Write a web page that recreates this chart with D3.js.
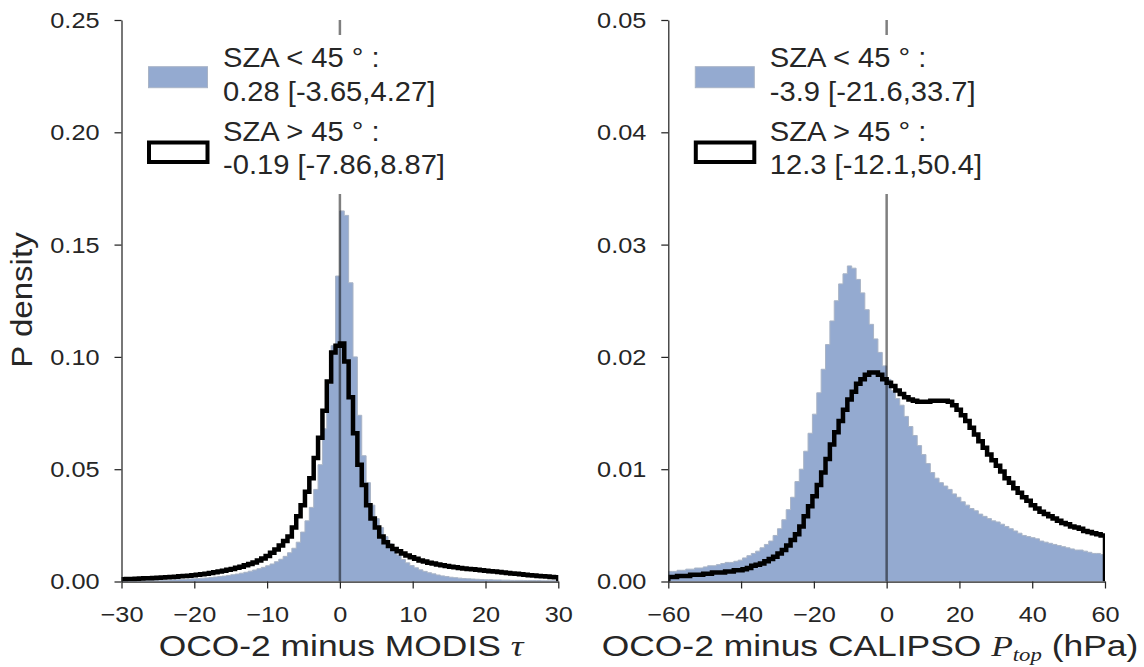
<!DOCTYPE html>
<html>
<head>
<meta charset="utf-8">
<script src="https://cdn.jsdelivr.net/npm/d3@7"></script>
<style>
  body { margin: 0; background: #fff; }
  svg { display: block; }
</style>
</head>
<body>
<svg id="chart" width="1144" height="667"></svg>
<script>
// bin ranges (100 equal bins each)
var tauRange = [-30, 30];
var ptopRange = [-60, 60];

var tauTicks = [-30, -20, -10, 0, 10, 20, 30];
var ptopTicks = [-60, -40, -20, 0, 20, 40, 60];
var tauDensityTicks = [0, 0.05, 0.10, 0.15, 0.20, 0.25];
var ptopDensityTicks = [0, 0.01, 0.02, 0.03, 0.04, 0.05];

// OCO-2 minus MODIS tau, SZA < 45 (filled)
var tauLow = [
  0.0002, 0.0002, 0.0003, 0.0003, 0.0003, 0.0004, 0.0004, 0.0005, 0.0005, 0.0006,
  0.0006, 0.0007, 0.0008, 0.0009, 0.0010, 0.0011, 0.0012, 0.0013, 0.0015, 0.0016,
  0.0018, 0.0020, 0.0022, 0.0024, 0.0027, 0.0030, 0.0033, 0.0037, 0.0041, 0.0046,
  0.0051, 0.0057, 0.0063, 0.0070, 0.0078, 0.0088, 0.0099, 0.0112, 0.0128, 0.0148,
  0.0175, 0.0220, 0.0270, 0.0330, 0.0410, 0.0520, 0.0680, 0.0880, 0.1050, 0.1360,
  0.1650, 0.1630, 0.1330, 0.1000, 0.0740, 0.0560, 0.0440, 0.0340, 0.0280, 0.0240,
  0.0200, 0.0168, 0.0142, 0.0118, 0.0098, 0.0083, 0.0071, 0.0061, 0.0052, 0.0045,
  0.0039, 0.0034, 0.0029, 0.0025, 0.0022, 0.0019, 0.0017, 0.0015, 0.0013, 0.0012,
  0.0011, 0.0010, 0.0009, 0.0008, 0.0008, 0.0007, 0.0007, 0.0006, 0.0006, 0.0005,
  0.0005, 0.0005, 0.0004, 0.0004, 0.0004, 0.0004, 0.0003, 0.0003, 0.0003, 0.0003
];
// SZA > 45 (step line)
var tauHigh = [
  0.0010, 0.0011, 0.0011, 0.0012, 0.0013, 0.0014, 0.0015, 0.0016, 0.0017, 0.0018,
  0.0019, 0.0020, 0.0021, 0.0023, 0.0024, 0.0026, 0.0028, 0.0030, 0.0032, 0.0035,
  0.0038, 0.0041, 0.0044, 0.0048, 0.0052, 0.0056, 0.0061, 0.0066, 0.0072, 0.0078,
  0.0085, 0.0093, 0.0102, 0.0113, 0.0128, 0.0143, 0.0160, 0.0180, 0.0200, 0.0240,
  0.0290, 0.0340, 0.0400, 0.0460, 0.0550, 0.0640, 0.0760, 0.0890, 0.1020, 0.1050,
  0.1060, 0.0980, 0.0820, 0.0660, 0.0520, 0.0430, 0.0340, 0.0280, 0.0240, 0.0200,
  0.0175, 0.0158, 0.0145, 0.0135, 0.0125, 0.0116, 0.0108, 0.0101, 0.0094, 0.0089,
  0.0084, 0.0080, 0.0076, 0.0072, 0.0069, 0.0066, 0.0063, 0.0060, 0.0058, 0.0056,
  0.0054, 0.0052, 0.0050, 0.0048, 0.0046, 0.0044, 0.0042, 0.0040, 0.0038, 0.0036,
  0.0034, 0.0032, 0.0030, 0.0028, 0.0027, 0.0025, 0.0023, 0.0022, 0.0020, 0.0019
];

// OCO-2 minus CALIPSO Ptop (hPa), SZA < 45 (filled)
var ptopLow = [
  0.0009, 0.0009, 0.0010, 0.0010, 0.0011, 0.0011, 0.0012, 0.0012, 0.0013, 0.0014,
  0.0014, 0.0015, 0.0016, 0.0017, 0.0017, 0.0018, 0.0019, 0.0021, 0.0023, 0.0025,
  0.0027, 0.0030, 0.0033, 0.0036, 0.0041, 0.0047, 0.0055, 0.0064, 0.0075, 0.0089,
  0.0100, 0.0116, 0.0132, 0.0149, 0.0168, 0.0189, 0.0211, 0.0232, 0.0250, 0.0265,
  0.0274, 0.0281, 0.0279, 0.0269, 0.0257, 0.0242, 0.0229, 0.0216, 0.0204, 0.0192,
  0.0180, 0.0170, 0.0163, 0.0157, 0.0147, 0.0138, 0.0130, 0.0121, 0.0113, 0.0105,
  0.0097, 0.0092, 0.0088, 0.0085, 0.0082, 0.0078, 0.0075, 0.0071, 0.0068, 0.0065,
  0.0063, 0.0060, 0.0058, 0.0056, 0.0054, 0.0053, 0.0051, 0.0049, 0.0047, 0.0045,
  0.0043, 0.0041, 0.0040, 0.0039, 0.0038, 0.0036, 0.0035, 0.0034, 0.0033, 0.0032,
  0.0031, 0.0030, 0.0029, 0.0028, 0.0028, 0.0027, 0.0026, 0.0025, 0.0025, 0.0024
];
// SZA > 45 (step line)
var ptopHigh = [
  0.0004, 0.0004, 0.0005, 0.0005, 0.0005, 0.0006, 0.0006, 0.0006, 0.0007, 0.0007,
  0.0008, 0.0008, 0.0008, 0.0009, 0.0009, 0.0010, 0.0010, 0.0011, 0.0012, 0.0014,
  0.0015, 0.0016, 0.0018, 0.0020, 0.0022, 0.0025, 0.0028, 0.0032, 0.0037, 0.0042,
  0.0049, 0.0058, 0.0067, 0.0076, 0.0086, 0.0097, 0.0109, 0.0122, 0.0133, 0.0143,
  0.0153, 0.0162, 0.0169, 0.0176, 0.0180, 0.0184, 0.0186, 0.0186, 0.0184, 0.0180,
  0.0177, 0.0174, 0.0170, 0.0167, 0.0164, 0.0162, 0.0161, 0.0160, 0.0160, 0.0160,
  0.0161, 0.0161, 0.0161, 0.0161, 0.0160, 0.0157, 0.0153, 0.0148, 0.0143, 0.0137,
  0.0131, 0.0125, 0.0119, 0.0113, 0.0108, 0.0103, 0.0098, 0.0092, 0.0088, 0.0083,
  0.0079, 0.0075, 0.0072, 0.0068, 0.0065, 0.0062, 0.0060, 0.0058, 0.0056, 0.0054,
  0.0052, 0.0051, 0.0049, 0.0048, 0.0047, 0.0045, 0.0044, 0.0043, 0.0042, 0.0041
];

var tauLegend = [["SZA < 45 \u00b0 :", "0.28 [-3.65,4.27]"], ["SZA > 45 \u00b0 :", "-0.19 [-7.86,8.87]"]];
var ptopLegend = [["SZA < 45 \u00b0 :", "-3.9 [-21.6,33.7]"], ["SZA > 45 \u00b0 :", "12.3 [-12.1,50.4]"]];

var font = "'Liberation Sans', Arial, sans-serif";
var serif = "'Liberation Serif', 'DejaVu Serif', serif";
var inkColor = "#262626";
var blueFill = "#4C72B0";
var blueEdge = "#a9b4c6";
var plotTop = 20, plotBottom = 581.5;

var svg = d3.select("#chart");
svg.append("rect").attr("width", 1144).attr("height", 667).attr("fill", "#fff");

// text in the reference is wider than plain Arial, so stretch it a little
function placeText(sel, x, y, sx) {
  return sel.attr("x", 0).attr("y", 0)
    .attr("transform", "translate(" + x + "," + y + ") scale(" + sx + ",1)");
}

function drawPanel(p, idx) {
  var x = d3.scaleLinear().domain(p.range).range([p.x0, p.x1]);
  var y = d3.scaleLinear().domain([0, p.yMax]).range([plotBottom, plotTop]);
  var n = p.low.length;
  var edges = d3.range(n + 1).map(function(i) { return p.range[0] + i * (p.range[1] - p.range[0]) / n; });

  function stepPoints(vals) {
    var pts = [[edges[0], 0]];
    vals.forEach(function(v, i) {
      pts.push([edges[i], v]);
      pts.push([edges[i + 1], v]);
    });
    pts.push([edges[n], 0]);
    return pts;
  }
  var line = d3.line().x(function(d) { return x(d[0]); }).y(function(d) { return y(d[1]); });

  svg.append("clipPath").attr("id", "clip" + idx)
    .append("rect")
      .attr("x", p.x0).attr("y", plotTop)
      .attr("width", p.x1 - p.x0).attr("height", plotBottom - plotTop);

  var g = svg.append("g").attr("clip-path", "url(#clip" + idx + ")");

  g.append("path")
    .attr("d", line(stepPoints(p.low)) + "Z")
    .attr("fill", blueFill)
    .attr("fill-opacity", 0.6)
    .attr("stroke", blueEdge)
    .attr("stroke-width", 1);

  g.append("path")
    .attr("d", line(stepPoints(p.high)))
    .attr("fill", "none")
    .attr("stroke", "#000")
    .attr("stroke-width", 4.5)
    .attr("stroke-linejoin", "miter");

  // zero line
  g.append("line")
    .attr("x1", x(0)).attr("x2", x(0))
    .attr("y1", plotTop).attr("y2", plotBottom)
    .attr("stroke", "#000")
    .attr("stroke-opacity", 0.5)
    .attr("stroke-width", 2.5);

  // legend
  var lg = svg.append("g");
  lg.append("rect")
    .attr("x", p.x0 + 14).attr("y", 35)
    .attr("width", 330).attr("height", 159)
    .attr("fill", "#fff");
  lg.append("rect")
    .attr("x", p.x0 + 27).attr("y", 66.7)
    .attr("width", 59).attr("height", 21)
    .attr("fill", blueFill).attr("fill-opacity", 0.6)
    .attr("stroke", blueEdge).attr("stroke-width", 1);
  lg.append("rect")
    .attr("x", p.x0 + 27.5).attr("y", 142.5)
    .attr("width", 58.5).attr("height", 19.5)
    .attr("fill", "#fff")
    .attr("stroke", "#000").attr("stroke-width", 4);
  var rows = [p.legend[0][0], p.legend[0][1], p.legend[1][0], p.legend[1][1]];
  var baselines = [66.7, 100.7, 140.7, 174];
  rows.forEach(function(t, i) {
    placeText(lg.append("text"), p.x0 + 101.5, baselines[i], 1.06)
      .attr("font-family", font)
      .attr("font-size", 27.5)
      .attr("fill", inkColor)
      .text(t);
  });

  // axes
  var xAxis = svg.append("g")
    .attr("transform", "translate(0," + plotBottom + ")")
    .call(d3.axisBottom(x).tickValues(p.xTicks).tickSize(7).tickSizeOuter(0).tickFormat(d3.format("d")));
  var yAxis = svg.append("g")
    .attr("transform", "translate(" + p.x0 + ",0)")
    .call(d3.axisLeft(y).tickValues(p.yTicks).tickSize(7).tickSizeOuter(0).tickFormat(d3.format(p.yFormat)));

  [xAxis, yAxis].forEach(function(a) {
    a.attr("font-family", font).attr("font-size", 22);
    a.selectAll("path, line").attr("stroke", inkColor).attr("stroke-width", 1.25);
    a.selectAll("text").attr("fill", inkColor);
  });
  xAxis.selectAll(".tick text").each(function() {
    placeText(d3.select(this), 0, 40.5, 1.15).attr("dy", null);
  });
  yAxis.selectAll(".tick text").each(function() {
    placeText(d3.select(this), -22, 0, 1.15).attr("dy", "0.34em");
  });

  // x label
  var xl = placeText(svg.append("text"), p.labelX, 656, 1.2)
    .attr("font-family", font)
    .attr("font-size", 29.5)
    .attr("fill", inkColor)
    .attr("text-anchor", "middle");
  p.xlabel(xl);
}

drawPanel({
  x0: 121.5, x1: 558.3, range: tauRange, xTicks: tauTicks,
  yMax: 0.25, yTicks: tauDensityTicks, yFormat: ".2f",
  low: tauLow, high: tauHigh, legend: tauLegend, labelX: 341,
  xlabel: function(t) {
    t.append("tspan").text("OCO-2 minus MODIS ");
    t.append("tspan").attr("font-family", serif).attr("font-style", "italic").text("\u03c4");
  }
}, 0);

drawPanel({
  x0: 668.3, x1: 1105, range: ptopRange, xTicks: ptopTicks,
  yMax: 0.05, yTicks: ptopDensityTicks, yFormat: ".2f",
  low: ptopLow, high: ptopHigh, legend: ptopLegend, labelX: 870,
  xlabel: function(t) {
    t.append("tspan").text("OCO-2 minus CALIPSO ");
    t.append("tspan").attr("font-family", serif).attr("font-style", "italic").text("P");
    t.append("tspan").attr("font-family", serif).attr("font-style", "italic")
      .attr("font-size", 19).attr("dy", 5).text("top");
    t.append("tspan").attr("dy", -5).text(" (hPa)");
  }
}, 1);

// y label
placeText(svg.append("text"), 31.5, 300, 1.12)
  .attr("transform", "translate(31.5,300) rotate(-90) scale(1.12,1)")
  .attr("font-family", font)
  .attr("font-size", 29.5)
  .attr("fill", inkColor)
  .attr("text-anchor", "middle")
  .text("P density");
</script>
</body>
</html>
